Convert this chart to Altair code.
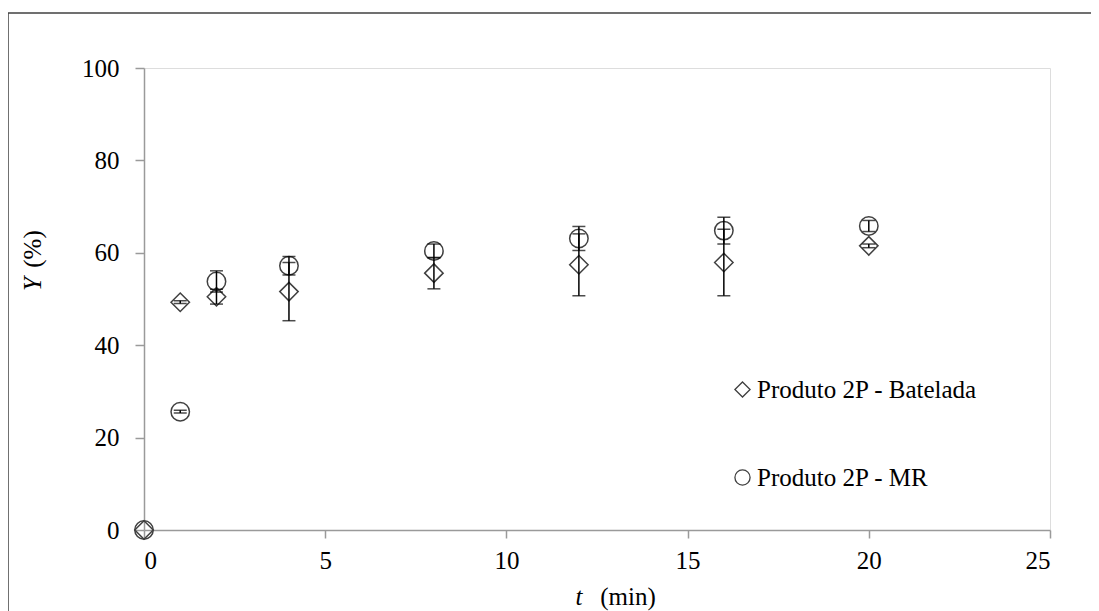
import altair as alt
import pandas as pd

# Data
t_bat = [0, 1, 2, 4, 8, 12, 16, 20]
y_bat = [0.0, 49.3, 50.5, 51.6, 55.6, 57.4, 57.9, 61.5]
e_bat = [0.0, 0.3, 1.6, 6.3, 3.4, 6.7, 7.2, 0.4]

t_mr = [0, 1, 2, 4, 8, 12, 16, 20]
y_mr = [0.0, 25.6, 53.8, 57.2, 60.4, 63.1, 64.8, 65.8]
e_mr = [0.0, 0.3, 2.3, 2.0, 1.5, 2.6, 2.9, 1.2]

series_names = ["Produto 2P - Batelada", "Produto 2P - MR"]
x_ticks = [0, 5, 10, 15, 20, 25]
y_ticks = [0, 20, 40, 60, 80, 100]

rows = []
for t, y, e in zip(t_bat, y_bat, e_bat):
    rows.append({"t": t, "Y": y, "lo": y - e, "hi": y + e, "s": series_names[0], "has_err": e > 0})
for t, y, e in zip(t_mr, y_mr, e_mr):
    rows.append({"t": t, "Y": y, "lo": y - e, "hi": y + e, "s": series_names[1], "has_err": e > 0})
df = pd.DataFrame(rows)
df_err = df[df["has_err"]]

FONT = "Times New Roman, Liberation Serif, serif"
MARK = "#404040"
GRID = "#9a9a9a"
FS = 25

xs = alt.Scale(domain=[0, 25], nice=False)
ys = alt.Scale(domain=[0, 100], nice=False)

x_enc = alt.X("t:Q", scale=xs, axis=alt.Axis(values=x_ticks, title=None, grid=False,
              labelFont=FONT, labelFontSize=FS, labelColor="#000", labelPadding=10,
              tickSize=8, tickColor=GRID, domainColor=GRID, domainWidth=1.5, tickWidth=1.5))
y_enc = alt.Y("Y:Q", scale=ys, axis=alt.Axis(values=y_ticks, title=None, grid=False,
              labelFont=FONT, labelFontSize=FS, labelColor="#000", labelPadding=16,
              tickSize=9, tickColor=GRID, domainColor=GRID, domainWidth=1.5, tickWidth=1.5))

points = alt.Chart(df).mark_point(filled=False, strokeWidth=1.5, size=340, opacity=1).encode(
    x=x_enc,
    y=y_enc,
    shape=alt.Shape("s:N", scale=alt.Scale(domain=series_names, range=["diamond", "circle"]),
                    legend=alt.Legend(title=None, orient="none", legendX=586, legendY=309,
                                      labelFont=FONT, labelFontSize=FS, labelColor="#000",
                                      symbolSize=230, symbolStrokeColor=MARK, symbolFillColor="transparent",
                                      symbolStrokeWidth=1.3, labelOffset=2, rowPadding=62,
                                      labelLimit=400)),
    color=alt.value(MARK),
)

err_rule = alt.Chart(df_err).mark_rule(color="#000", strokeWidth=1.5).encode(
    x="t:Q", y="lo:Q", y2="hi:Q"
)
err_lo = alt.Chart(df_err).mark_tick(color="#000", thickness=1.5, size=13, orient="horizontal").encode(
    x="t:Q", y="lo:Q"
)
err_hi = alt.Chart(df_err).mark_tick(color="#000", thickness=1.5, size=13, orient="horizontal").encode(
    x="t:Q", y="hi:Q"
)

# axis titles with mixed italic
title_df = pd.DataFrame({"a": [0]})
x_t = alt.Chart(title_df).mark_text(font=FONT, fontSize=FS, fontStyle="italic", color="#000",
                                    align="center", baseline="alphabetic").encode(
    x=alt.value(435), y=alt.value(537), text=alt.value("t"))
x_min = alt.Chart(title_df).mark_text(font=FONT, fontSize=FS, color="#000",
                                      align="center", baseline="alphabetic").encode(
    x=alt.value(484), y=alt.value(537), text=alt.value("(min)"))
y_Y = alt.Chart(title_df).mark_text(font=FONT, fontSize=FS, fontStyle="italic", color="#000",
                                    align="center", baseline="middle", angle=270).encode(
    x=alt.value(-111), y=alt.value(216), text=alt.value("Y"))
y_pct = alt.Chart(title_df).mark_text(font=FONT, fontSize=FS, color="#000",
                                      align="center", baseline="middle", angle=270).encode(
    x=alt.value(-111), y=alt.value(181), text=alt.value("(%)"))

# outer chart border (top and left edges only are visible in the reference)
border_top = alt.Chart(title_df).mark_rule(color="#404040", strokeWidth=1.5).encode(
    x=alt.value(-136), x2=alt.value(1000), y=alt.value(-55))
border_left = alt.Chart(title_df).mark_rule(color="#404040", strokeWidth=1.5).encode(
    x=alt.value(-136), y=alt.value(-55), y2=alt.value(700))

chart = alt.layer(border_top, border_left, points, err_rule, err_lo, err_hi,
                  x_t, x_min, y_Y, y_pct).properties(
    width=906, height=462,
    autosize=alt.AutoSizeParams(type="none"),
    padding={"left": 136, "top": 60, "right": 41, "bottom": 81},
).configure_view(stroke=GRID, strokeWidth=1.5).configure(background="white")

chart.save("out.html", embed_options={"renderer": "svg", "actions": False})
